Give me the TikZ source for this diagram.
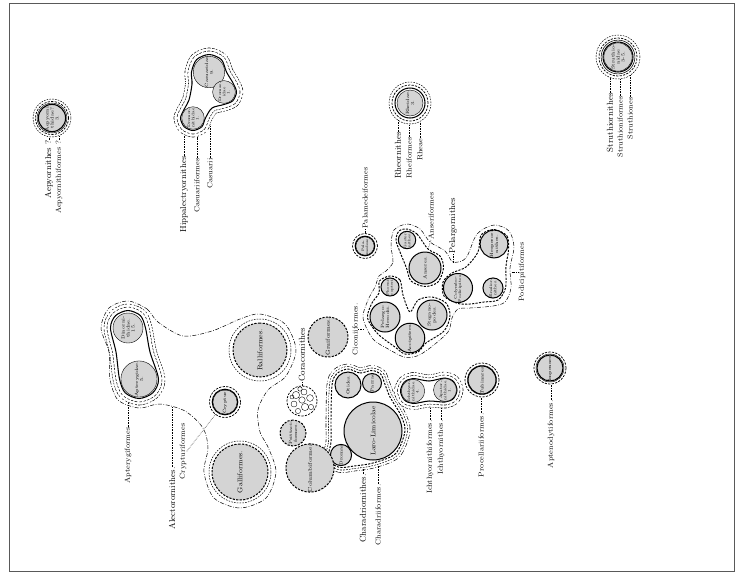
\documentclass[tikz,border=0pt]{standalone}
\usepackage{tikz}
\definecolor{famgray}{gray}{0.83}
\definecolor{framec}{gray}{0.35}
\newcommand\bandring[3]{%
  \draw[#2, line width=2*#1+0.6pt] #3;
  \draw[white, line width=2*#1-0.6pt] #3;}
\tikzset{
  dsh/.style={dash pattern=on 2.2pt off 1.3pt},
  dshthin/.style={dash pattern=on 1.6pt off 1.2pt},
  ddot/.style={dash pattern=on 4pt off 1.6pt on 0.7pt off 1.6pt},
  fam/.style={circle, fill=famgray, draw=black, line width=0.4pt, inner sep=0pt, outer sep=0pt, align=center, rotate=90, font=\fontsize{4.6}{5}\selectfont},
  famb/.style={fam, line width=1pt},
  famd/.style={fam, line width=1pt, dsh},
  rsolid/.style={line width=1.05pt},
  rdash/.style={line width=0.75pt, dsh},
  rthin/.style={line width=0.5pt, dshthin},
  ringnode/.style={circle, draw, inner sep=0pt, outer sep=0pt},
  envbase/.style={line width=1.05pt},
  envdash/.style={line width=0.95pt, dsh},
  envdd/.style={line width=0.5pt, ddot},
  biglab/.style={rotate=90, inner sep=0.3pt, font=\fontsize{8.6}{9}\selectfont},
  smlab/.style={rotate=90, inner sep=0.3pt, font=\fontsize{7.3}{8}\selectfont},
  leader/.style={line width=0.5pt, dash pattern=on 0.55pt off 1.1pt},
}
\def\pAlect{plot[smooth cycle] coordinates {(128,301) (147,309) (158,322) (183,336) (212,331) (240,319) (260,314) (285,324) (296,350) (286,376) (268,390) (258,410) (260,432) (268,447) (276,472) (266,498) (240,508) (214,498) (204,472) (208,448) (203,428) (185,411) (160,404) (139,408) (118,400) (110,379) (109,352) (101,328) (109,308)}}
\def\pApt{plot[smooth cycle] coordinates {(128,310.5) (140.4,315.6) (145.5,328) (150,352) (158.5,379) (152.8,392.8) (139,398.5) (125.2,392.8) (119.5,379) (116,352) (110.5,328) (115.6,315.6)}}
\def\pCas{plot[smooth cycle] coordinates {(209,54.5) (221.4,59.6) (226.5,72) (233,83) (236.5,92) (232.8,100.8) (224,104.5) (212,108) (205.5,118) (201.8,126.8) (193,130.5) (184.2,126.8) (180.5,118) (184.2,109.2) (189,100) (192,84) (191.5,72) (196.6,59.6)}}
\def\pChar{plot[smooth cycle] coordinates {(348,369) (360,373) (372,370.5) (380.8,374.2) (384.5,383) (390,397) (400.7,415) (405,431) (395.6,453.6) (373,463) (354,466) (341,467.5) (332.2,463.8) (328.5,455) (331,442) (331,420) (332,385) (336.7,373.7)}}
\def\pIch{plot[smooth cycle] coordinates {(413,378.5) (429,381) (445,378) (453.5,381.5) (457,390) (453.5,398.5) (445,402) (429,401) (413,403.5) (404.2,399.8) (400.5,391) (404.2,382.2)}}
\def\pCic{plot[smooth cycle] coordinates {(390,276) (400,280) (403,295) (410,312) (418,300) (432,297) (446,303) (450,316) (444,331) (426,343) (418,352) (405,354) (395,347) (378,334) (367.5,318) (372,303) (379,293) (379.5,281)}}
\def\pAns{plot[smooth cycle] coordinates {(407,229) (417,234) (428,249) (440,256) (443.5,268) (438,282) (425,286.5) (411,281) (406.5,268) (400,252) (396,240) (399,231)}}
\def\pPod{plot[smooth cycle] coordinates {(494,229.5) (507,236) (508.5,250) (506,266) (505.5,288) (498,300) (484,302) (470,304) (458,303.5) (444,296) (443,282) (452,273) (466,267) (478,252) (481,235)}}
\def\pPel{plot[smooth cycle] coordinates {(386,271) (393,262) (391,246) (394,230) (407,224) (420,229) (430,242) (445,251) (453,262) (466,258) (477,234) (494,225) (509,231) (514,247) (510,268) (511,288) (505,302) (493,306) (470,308) (458,309) (452,318) (448,332) (430,348) (417,356) (404,357) (390,350) (373,339) (363,318) (368,300) (375,287) (379,276)}}
\begin{document}
\begin{tikzpicture}[x=1pt,y=-1pt]
\useasboundingbox (0,0) rectangle (739,582);
\draw[line width=0.7pt, framec] (9,3) rectangle (734,571);

% ---------- Alectorornithes ----------
\draw[envdd] \pAlect;
\bandring{6.5pt}{dshthin}{\pApt}
\bandring{3.5pt}{dsh}{\pApt}
\fill[white] \pApt;
\draw[envbase] \pApt;
\node[fam, minimum size=30pt] (din) at (128,328) {Dinorni-\\thidae.\\15.};
\node[fam, minimum size=34pt] (apt) at (139,379) {Apterygidae.\\5.};

\draw[rthin] (260,350) circle[radius=31pt];
\node[famd, minimum size=54pt, font=\fontsize{7}{8}\selectfont] (ral) at (260,350) {Ralliformes.};
\draw[rthin] (240,472) circle[radius=31pt];
\node[famd, minimum size=56pt, font=\fontsize{7}{8}\selectfont] (gal) at (240,472) {Galliformes.};

\node[fam, minimum size=22pt] (cry) at (225,402) {Crypturi};
\draw[rsolid] (cry.center) circle[radius=12.8pt];
\node[ringnode, rdash, minimum size=31pt] (cryr) at (cry.center) {};

% ---------- Casuarii ----------
\bandring{6.5pt}{dshthin}{\pCas}
\bandring{3.5pt}{dsh}{\pCas}
\fill[white] \pCas;
\draw[envbase] \pCas;
\node[fam, minimum size=30pt] (cas) at (209,72) {Casuaridae\\9.};
\node[fam, minimum size=20pt, font=\fontsize{3.9}{4.3}\selectfont] (dro) at (224,92) {Dromae-\\idae\\1.};
\node[fam, minimum size=20pt, font=\fontsize{3.9}{4.3}\selectfont] (drn) at (193,118) {Dromor-\\nithidae\\1.};

% ---------- Aepyornithes ----------
\node[fam, minimum size=24pt] (aep) at (52,118) {Aepyorni-\\thidae?\\3.};
\draw[rsolid] (aep.center) circle[radius=13.6pt];
\draw[rdash] (aep.center) circle[radius=16.5pt];
\draw[rthin] (aep.center) circle[radius=19pt];

% ---------- Struthio ----------
\node[fam, minimum size=26pt] (str) at (618,57) {Struthio-\\nidae\\3-5.};
\draw[rsolid] (str.center) circle[radius=15pt];
\draw[line width=0.55pt] (str.center) circle[radius=16.9pt];
\draw[rdash] (str.center) circle[radius=19pt];
\draw[rthin] (str.center) circle[radius=22pt];

% ---------- Rhea ----------
\node[fam, minimum size=26pt] (rhe) at (410,103) {Rheidae.\\3.};
\draw[rsolid] (rhe.center) circle[radius=15pt];
\draw[rdash] (rhe.center) circle[radius=18pt];
\draw[rthin] (rhe.center) circle[radius=21pt];

% ---------- Pelargornithes ----------
\draw[envdd] \pPel;
\draw[envdash] \pCic;
\draw[envdash] \pAns;
\draw[envdash] \pPod;
\node[famb, minimum size=30pt] (ph) at (385,317) {Pelargo-\\Herodii.};
\node[famb, minimum size=17pt, font=\fontsize{3.6}{4}\selectfont] (pho) at (390,287) {Phoeni-\\copteri.};
\node[famb, minimum size=26pt] (acc) at (410,338) {Accipitres.};
\node[famb, minimum size=30pt] (ste) at (432,315) {Stegano-\\podes.};
\node[famb, minimum size=32pt] (ans) at (425,268) {Anseres.};
\node[famb, minimum size=17pt, font=\fontsize{3.6}{4}\selectfont] (gas) at (407,240) {Gastor-\\nithes.};
\node[famb, minimum size=26pt, font=\fontsize{4}{4.4}\selectfont] (col) at (458,288) {Colymbo-\\Podicipites.};
\node[famb, minimum size=20pt, font=\fontsize{3.9}{4.3}\selectfont] (ena) at (493,288) {Enalior-\\nithes.};
\node[famb, minimum size=24pt] (hes) at (494,244) {Hesperor-\\nithes.};

\node[fam, minimum size=16pt, font=\fontsize{3.6}{4}\selectfont] (pal) at (365,246) {Pala-\\medeae.};
\draw[rsolid] (pal.center) circle[radius=9.8pt];
\node[ringnode, rdash, minimum size=25pt] (palr) at (pal.center) {};

% ---------- Charadriornithes ----------
\bandring{5pt}{ddot}{\pChar}
\bandring{2.5pt}{dshthin}{\pChar}
\fill[white] \pChar;
\draw[envdash] \pChar;
\node[famb, minimum size=58pt, font=\fontsize{6.6}{7.5}\selectfont] (ll) at (373,431) {Laro-Limicolae};
\node[famb, minimum size=26pt] (oti) at (348,385) {Otides.};
\node[famb, minimum size=19pt] (par) at (372,383) {Parrae};
\node[famb, minimum size=19pt] (dra) at (341,455) {Dromas};

% ---------- Ichthyornithes ----------
\bandring{6pt}{dshthin}{\pIch}
\bandring{3pt}{dsh}{\pIch}
\fill[white] \pIch;
\draw[envbase] \pIch;
\node[fam, minimum size=21pt, font=\fontsize{3.8}{4.2}\selectfont] (ich) at (413,391) {Ichthyor-\\nithidae.\\4.};
\node[fam, minimum size=20pt, font=\fontsize{3.8}{4.2}\selectfont] (apa) at (445,390) {Apator-\\nithidae.\\1.};

% ---------- Tubinares, Impennes ----------
\node[fam, minimum size=24pt] (tub) at (482,380) {Tubinares.};
\draw[rsolid] (tub.center) circle[radius=14pt];
\node[ringnode, rdash, minimum size=34pt] (tubr) at (tub.center) {};
\node[fam, minimum size=22pt] (imp) at (550,368) {Impennes.};
\draw[rsolid] (imp.center) circle[radius=13pt];
\node[ringnode, rdash, minimum size=32pt] (impr) at (imp.center) {};

% ---------- Coracornithes area ----------
\node[famd, minimum size=40pt, font=\fontsize{5.8}{6.5}\selectfont] (gru) at (328,337) {Gruiformes.};
\node[famd, minimum size=40pt, font=\fontsize{5.4}{6}\selectfont] (colu) at (310,468) {Columbiformes};
\node[famd, minimum size=26pt, font=\fontsize{4.6}{5}\selectfont] (psi) at (293,433) {Psittaci-\\formes.};
\node[circle, draw, dsh, line width=0.75pt, fill=white, minimum size=30pt, inner sep=0pt] (coc) at (302,401) {};
\begin{scope}[shift={(302,401)}]
\foreach \a/\b/\r in {-6/-6/3.6pt, 2/-9/3pt, 8/-3/3.4pt, 0/-1/3.2pt, -8/3/3pt, 3/6/3.6pt, 9/6/2.6pt, -4/10/2.6pt, -2/-12/2.2pt, -10/-4/2pt}
  \draw[line width=0.35pt] (\a,\b) circle[radius=\r];
\end{scope}

% ---------- labels ----------
\node[biglab, anchor=east] (aepl1) at (49,140) {Aepyornithes ?};
\node[smlab, anchor=east] (aepl2) at (59,140) {Aepyornithiformes ?};
\coordinate (aepc1) at (49,136.8);
\coordinate (aepc2) at (59,135.7);
\draw[leader] (aepl1.east) -- (aepc1);
\draw[leader] (aepl2.east) -- (aepc2);

\node[biglab, anchor=east] (casl1) at (184,156) {Hippalectryornithes};
\node[smlab, anchor=east] (casl2) at (197,158) {Casuariiformes};
\node[smlab, anchor=east] (casl3) at (210,158) {Casuarii};
\coordinate (casc1) at (184,135);
\coordinate (casc2) at (197,136.5);
\coordinate (casc3) at (210,126);
\draw[leader] (casl1.east) -- (casc1);
\draw[leader] (casl2.east) -- (casc2);
\draw[leader] (casl3.east) -- (casc3);

\node[biglab, anchor=east] (rhel1) at (398,132) {Rheornithes};
\node[smlab, anchor=east] (rhel2) at (409,137) {Rheiformes};
\node[smlab, anchor=east] (rhel3) at (420,138) {Rheae};
\coordinate (rhec1) at (398,120.2);
\coordinate (rhec2) at (409,124);
\coordinate (rhec3) at (420,121.5);
\draw[leader] (rhel1.east) -- (rhec1);
\draw[leader] (rhel2.east) -- (rhec2);
\draw[leader] (rhel3.east) -- (rhec3);

\node[biglab, anchor=east] (strl1) at (610,93) {Struthiornithes};
\node[smlab, anchor=east] (strl2) at (620,96) {Struthioniformes};
\node[smlab, anchor=east] (strl3) at (630,97) {Struthiones};
\coordinate (strc1) at (610,77.5);
\coordinate (strc2) at (620,78.9);
\coordinate (strc3) at (630,75.4);
\draw[leader] (strl1.east) -- (strc1);
\draw[leader] (strl2.east) -- (strc2);
\draw[leader] (strl3.east) -- (strc3);

\node[smlab, anchor=east] (aptl) at (128,427) {Apterygiformes};
\coordinate (aptc) at (128,403);
\draw[leader] (aptl.east) -- (aptc);
\node[biglab, anchor=east] (alel) at (172,467) {Alectorornithes.};
\coordinate (alec) at (172,407);
\draw[leader] (alel.east) -- (alec);
\node[smlab, anchor=east] (cryl) at (183,423) {Crypturiformes};
\draw[leader] (cryl.south) -- (cryr);

\node[biglab, anchor=west] (corl) at (302,382) {Coracornithes};
\draw[leader] (corl.west) -- (coc.north);

\node[smlab, anchor=east] (cicl) at (355,303) {Ciconiiformes.};
\coordinate (cicc) at (363.5,326);
\draw[leader] (cicl.south) -- (cicl.south -| cicc);
\node[smlab, anchor=west] (pall) at (365,229) {Palamedeiformes};
\draw[leader] (pall.west) -- (palr.north);
\node[smlab, anchor=west] (ansl) at (431,240) {Anseriformes};
\coordinate (ansc) at (428,249);
\draw[leader] (ansl.west) -- (ansc);
\node[biglab, anchor=west] (pell) at (453,254) {Pelargornithes};
\coordinate (pelc) at (453,262.5);
\draw[leader] (pell.west) -- (pelc);
\node[smlab, anchor=west] (podl) at (522,302) {Podicipitiformes};
\coordinate (podc) at (511.5,275);
\draw[leader] (podl.north) -- (podl.north -| podc);

\node[biglab, anchor=east] (charl1) at (363,474) {Charadriornithes.};
\node[smlab, anchor=east] (charl2) at (378,484) {Charadriiformes.};
\coordinate (charc1) at (363,469);
\coordinate (charc2) at (378,465.5);
\draw[leader] (charl1.east) -- (charc1);
\draw[leader] (charl2.east) -- (charc2);

\node[smlab, anchor=east] (ichl1) at (430,420) {Ichthyornithiformes.};
\node[smlab, anchor=east] (ichl2) at (441,420) {Ichthyornithes.};
\coordinate (ichc1) at (430,407);
\coordinate (ichc2) at (441,407.5);
\draw[leader] (ichl1.east) -- (ichc1);
\draw[leader] (ichl2.east) -- (ichc2);

\node[smlab, anchor=east] (tubl) at (481,413) {Procellariiformes.};
\draw[leader] (tubl.east) -- (tubl.east |- tubr.south);
\node[smlab, anchor=east] (impl) at (551,400) {Aptenodytiformes.};
\draw[leader] (impl.east) -- (impl.east |- impr.south);
\end{tikzpicture}
\end{document}
